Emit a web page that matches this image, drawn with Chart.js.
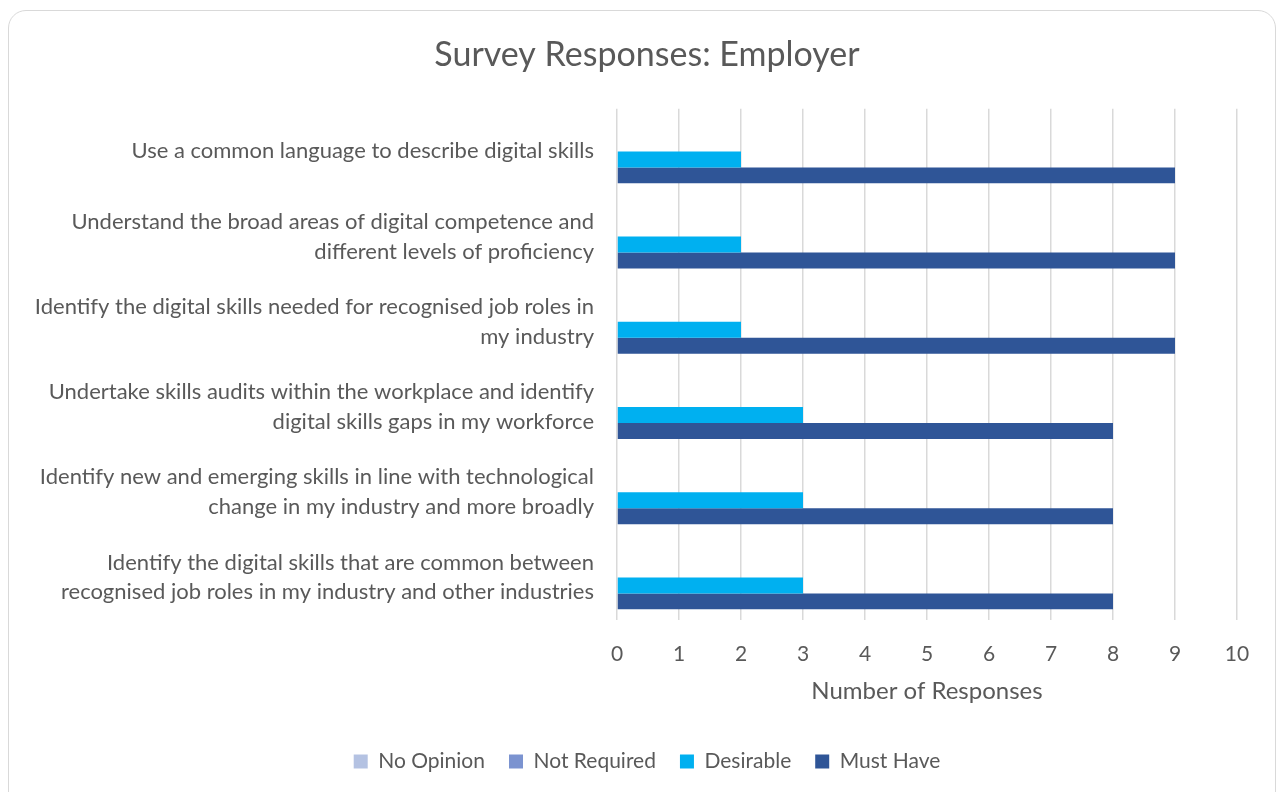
<!DOCTYPE html>
<html>
<head>
<meta charset="utf-8">
<script src="https://cdn.jsdelivr.net/npm/chart.js@4.4.1/dist/chart.umd.min.js"></script>
<style>
  html, body { margin: 0; padding: 0; background: #fff; }
  #wrap { position: relative; width: 1280px; height: 792px; overflow: hidden; }
  #card {
    position: absolute; left: 8px; top: 10px; width: 1268px; height: 800px;
    border: 1.5px solid #d9d9d9; border-radius: 18px; box-sizing: border-box;
  }
  #chart { position: absolute; left: 0; top: 0; }
</style>
</head>
<body>
<div id="wrap">
  <div id="card"></div>
  <canvas id="chart" width="1280" height="792"></canvas>
</div>
<script>
// Survey data
const categories = [
    ["Use a common language to describe digital skills"],
    ["Understand the broad areas of digital competence and", "different levels of proficiency"],
    ["Identify the digital skills needed for recognised job roles in", "my industry"],
    ["Undertake skills audits within the workplace and identify", "digital skills gaps in my workforce"],
    ["Identify new and emerging skills in line with technological", "change in my industry and more broadly"],
    ["Identify the digital skills that are common between", "recognised job roles in my industry and other industries"]
];
const seriesNames = ["No Opinion", "Not Required", "Desirable", "Must Have"];
const noOpinion = [0, 0, 0, 0, 0, 0];
const notRequired = [0, 0, 0, 0, 0, 0];
const desirable = [2, 2, 2, 3, 3, 3];
const mustHave = [9, 9, 9, 8, 8, 8];
const xTicks = [0, 1, 2, 3, 4, 5, 6, 7, 8, 9, 10];

const colors = ["#b4c2e2", "#7b93d0", "#00b0f0", "#2f5597"];
const textColor = "#595959";
const fontFamily = "Lato, 'Open Sans', sans-serif";

const ctx = document.getElementById("chart").getContext("2d");

new Chart(ctx, {
    type: "bar",
    data: {
        labels: categories,
        datasets: [noOpinion, notRequired, desirable, mustHave].map((d, i) => ({
            label: seriesNames[i],
            data: d,
            backgroundColor: colors[i],
            borderWidth: 0,
            categoryPercentage: 0.75,
            barPercentage: 1.0
        }))
    },
    options: {
        indexAxis: "y",
        responsive: false,
        animation: false,
        layout: { padding: { left: 14, right: 0, top: 0, bottom: 10 } },
        scales: {
            x: {
                min: 0,
                max: 10,
                afterBuildTicks: axis => { axis.ticks = xTicks.map(v => ({ value: v })); },
                afterFit: axis => { axis.height = 107; },
                grid: { color: "#d9d9d9", lineWidth: 1.5, drawTicks: false },
                border: { display: false },
                ticks: { color: textColor, font: { family: fontFamily, size: 21 }, padding: 22 },
                title: {
                    display: true,
                    text: "Number of Responses",
                    color: textColor,
                    font: { family: fontFamily, size: 24 },
                    padding: { top: 10, bottom: 21 }
                }
            },
            y: {
                // fixed label column; no overhang padding from the two-line labels
                afterFit: axis => { axis.width = 603; axis.paddingTop = 0; axis.paddingBottom = 0; },
                grid: { display: false, drawTicks: false },
                border: { display: false },
                ticks: {
                    color: textColor,
                    font: { family: fontFamily, size: 22, lineHeight: 1.36 },
                    padding: 23
                }
            },
            // empty right-hand gutter
            yRight: {
                type: "category",
                position: "right",
                afterFit: axis => { axis.width = 43; axis.paddingTop = 0; axis.paddingBottom = 0; },
                grid: { display: false, drawTicks: false },
                border: { display: false },
                ticks: { display: false }
            }
        },
        plugins: {
            title: {
                display: true,
                text: "Survey Responses: Employer",
                color: textColor,
                font: { family: fontFamily, size: 34, weight: "normal" },
                padding: { top: 35, bottom: 33 }
            },
            legend: {
                position: "bottom",
                labels: {
                    color: textColor,
                    font: { family: fontFamily, size: 21 },
                    boxWidth: 14,
                    boxHeight: 14,
                    padding: 24
                }
            },
            tooltip: { enabled: false }
        }
    }
});
</script>
</body>
</html>
